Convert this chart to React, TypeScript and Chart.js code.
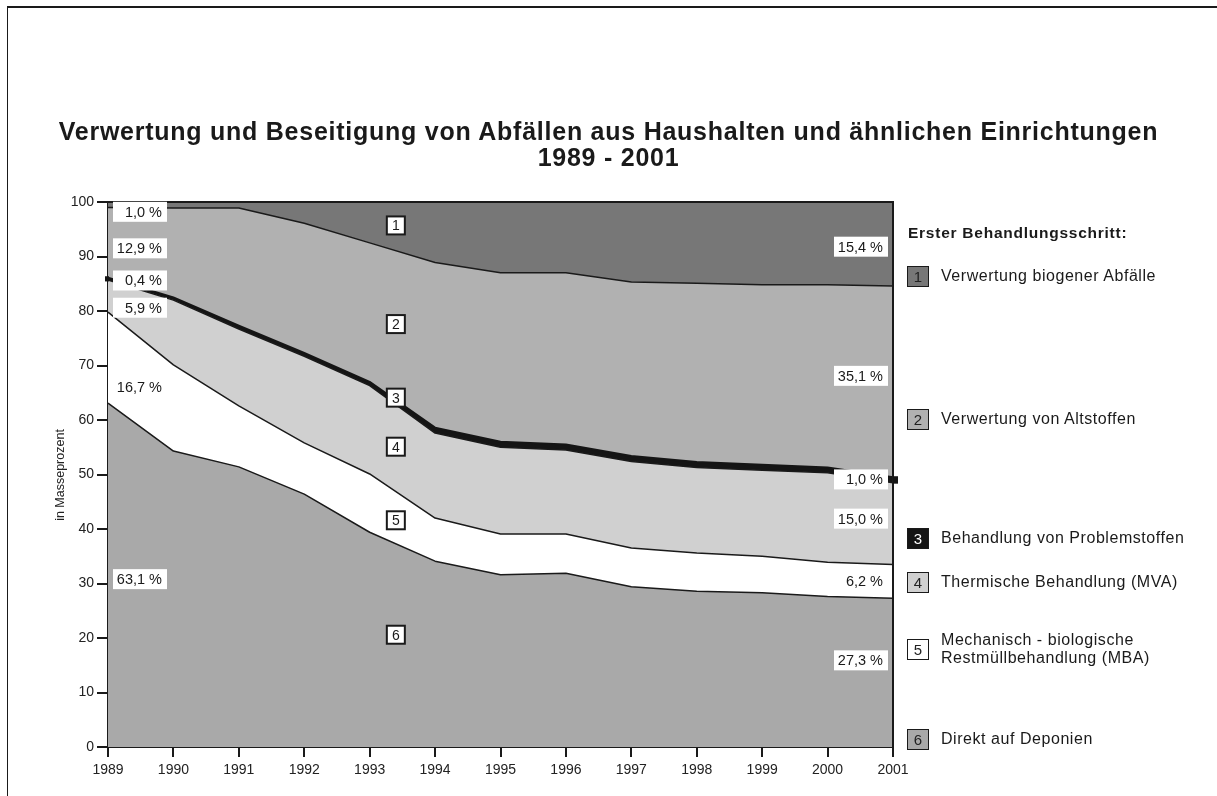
import React, { useEffect, useRef } from "react";
import { Chart, registerables } from "chart.js";

Chart.register(...registerables);

// ---------- data ----------
const years = ["1989", "1990", "1991", "1992", "1993", "1994", "1995", "1996", "1997", "1998", "1999", "2000", "2001"];
// stacked from bottom (6) to top (1), in mass percent
const deponien = [63.1, 54.3, 51.4, 46.4, 39.4, 34.1, 31.6, 31.9, 29.4, 28.6, 28.3, 27.6, 27.3];
const mba = [16.7, 15.8, 11.2, 9.4, 10.7, 7.9, 7.5, 7.2, 7.1, 7.0, 6.7, 6.3, 6.2];
const mva = [5.9, 11.9, 14.1, 15.9, 16.2, 15.6, 15.9, 15.4, 15.9, 15.7, 15.8, 16.4, 15.0];
const problemstoffe = [0.4, 0.5, 0.6, 0.6, 0.7, 1.0, 1.0, 1.0, 1.0, 1.0, 1.0, 1.0, 1.0];
const altstoffe = [12.9, 16.4, 21.6, 23.8, 25.5, 30.3, 31.0, 31.5, 31.9, 32.8, 33.0, 33.5, 35.1];
const biogen = [1.0, 1.1, 1.1, 3.9, 7.5, 11.1, 13.0, 13.0, 14.7, 14.9, 15.2, 15.2, 15.4];
const yTicks = [0, 10, 20, 30, 40, 50, 60, 70, 80, 90, 100];
const seriesNumbers = ["1", "2", "3", "4", "5", "6"];
const seriesNames = [
  "Verwertung biogener Abfälle",
  "Verwertung von Altstoffen",
  "Behandlung von Problemstoffen",
  "Thermische Behandlung (MVA)",
  "Mechanisch - biologische\nRestmüllbehandlung (MBA)",
  "Direkt auf Deponien",
];

// ---------- styles ----------
const FONT = "'Liberation Sans', Arial, Helvetica, sans-serif";
const C1 = "#777777";
const C2 = "#b1b1b1";
const C3 = "#151515";
const C4 = "#d0d0d0";
const C5 = "#ffffff";
const C6 = "#a9a9a9";
const seriesColors = [C1, C2, C3, C4, C5, C6];
const INK = "#1a1a1a";

const fmt = (v: number) => v.toFixed(1).replace(".", ",") + " %";

// label placement (value-axis units) for first/last year and for the number boxes
const leftLabelY = [98.2, 91.5, 85.6, 80.6, 66.1, 30.8];
const rightLabelY = [91.8, 68.1, 49.1, 41.9, 30.5, 15.9];
const numberBoxX = 4.4;
const numberBoxY = [95.7, 77.6, 64.1, 55.1, 41.6, 20.6];

const labelPlugin = {
  id: "labelPlugin",
  afterDatasetsDraw(chart: any) {
    const ctx = chart.ctx as CanvasRenderingContext2D;
    const xs = chart.scales.x;
    const ys = chart.scales.y;
    const area = chart.chartArea;
    const top = [biogen, altstoffe, problemstoffe, mva, mba, deponien];
    const last = years.length - 1;

    ctx.save();
    // plot frame (top and right)
    ctx.strokeStyle = INK;
    ctx.lineWidth = 2;
    ctx.beginPath();
    ctx.moveTo(area.left, area.top);
    ctx.lineTo(area.right, area.top);
    ctx.lineTo(area.right, area.bottom);
    ctx.stroke();

    // line stubs of the Problemstoffe band beyond the axes
    const cum = (i: number) => deponien[i] + mba[i] + mva[i];
    ctx.fillStyle = C3;
    const yl0 = ys.getPixelForValue(cum(last) + problemstoffe[last]);
    const yl1 = ys.getPixelForValue(cum(last));
    ctx.fillRect(xs.getPixelForValue(last), yl0 - 1, 5, yl1 - yl0 + 2);
    const yf0 = ys.getPixelForValue(cum(0) + problemstoffe[0]);
    const yf1 = ys.getPixelForValue(cum(0));
    ctx.fillRect(xs.getPixelForValue(0) - 3, yf0 - 1.5, 4, yf1 - yf0 + 3);

    // percent labels
    ctx.font = `14.5px ${FONT}`;
    ctx.textBaseline = "middle";
    ctx.textAlign = "right";
    const bw = 54;
    const bh = 20;
    for (let k = 0; k < 6; k++) {
      const yL = ys.getPixelForValue(leftLabelY[k]);
      const xL = xs.getPixelForValue(0) + 5;
      ctx.fillStyle = "#ffffff";
      ctx.fillRect(xL, yL - bh / 2, bw, bh);
      ctx.fillStyle = INK;
      ctx.fillText(fmt(top[k][0]), xL + bw - 5, yL + 1);

      const yR = ys.getPixelForValue(rightLabelY[k]);
      const xR = xs.getPixelForValue(last) - 5 - bw;
      ctx.fillStyle = "#ffffff";
      ctx.fillRect(xR, yR - bh / 2, bw, bh);
      ctx.fillStyle = INK;
      ctx.fillText(fmt(top[k][last]), xR + bw - 5, yR + 1);
    }

    // number boxes
    ctx.textAlign = "center";
    ctx.font = `14px ${FONT}`;
    const nb = 18;
    for (let k = 0; k < 6; k++) {
      const cx = xs.getPixelForValue(numberBoxX);
      const cy = ys.getPixelForValue(numberBoxY[k]);
      ctx.fillStyle = "#ffffff";
      ctx.fillRect(cx - nb / 2, cy - nb / 2, nb, nb);
      ctx.strokeStyle = INK;
      ctx.lineWidth = 2;
      ctx.strokeRect(cx - nb / 2, cy - nb / 2, nb, nb);
      ctx.fillStyle = INK;
      ctx.fillText(seriesNumbers[k], cx, cy + 1);
    }
    ctx.restore();
  },
};

export default function App() {
  const canvasRef = useRef<HTMLCanvasElement | null>(null);

  useEffect(() => {
    if (!canvasRef.current) return;
    const common = { pointRadius: 0, tension: 0, borderColor: INK, borderJoinStyle: "round" as const };
    const chart = new Chart(canvasRef.current, {
      type: "line",
      data: {
        labels: years,
        datasets: [
          { ...common, label: "Direkt auf Deponien", data: deponien, backgroundColor: C6, borderWidth: 1.5, fill: "origin" },
          { ...common, label: "MBA", data: mba, backgroundColor: C5, borderWidth: 1.5, fill: "-1" },
          { ...common, label: "MVA", data: mva, backgroundColor: C4, borderWidth: 1.5, fill: "-1" },
          { ...common, label: "Problemstoffe", data: problemstoffe, backgroundColor: C3, borderColor: C3, borderWidth: 2, fill: "-1" },
          { ...common, label: "Altstoffe", data: altstoffe, backgroundColor: C2, borderWidth: 1.5, fill: "-1" },
          { ...common, label: "Biogen", data: biogen, backgroundColor: C1, borderWidth: 0, fill: "-1" },
        ],
      },
      options: {
        animation: false,
        responsive: false,
        maintainAspectRatio: false,
        layout: { padding: { left: 0, top: 202, right: 324, bottom: 0 } },
        plugins: {
          legend: { display: false },
          tooltip: { enabled: false },
          title: { display: false },
        },
        scales: {
          x: {
            type: "category",
            offset: false,
            z: 1,
            grid: { display: true, drawOnChartArea: false, drawTicks: true, tickLength: 10, color: INK, lineWidth: 2 },
            border: { display: true, color: INK, width: 2 },
            ticks: { color: "#222", font: { family: FONT, size: 14 }, padding: 5, maxRotation: 0, autoSkip: false },
            afterFit: (s: any) => {
              s.height = 49;
            },
          },
          y: {
            stacked: true,
            min: 0,
            max: 100,
            z: 1,
            grid: { display: true, drawOnChartArea: false, drawTicks: true, tickLength: 11, color: INK, lineWidth: 2 },
            border: { display: true, color: INK, width: 2 },
            afterBuildTicks: (s: any) => {
              s.ticks = yTicks.map((v) => ({ value: v }));
            },
            ticks: { color: "#222", font: { family: FONT, size: 14 }, padding: 3 },
            afterFit: (s: any) => {
              s.width = 108;
            },
          },
        },
      },
      plugins: [labelPlugin],
    });
    return () => chart.destroy();
  }, []);

  const legendY = [276, 419, 538, 582, 649, 739];

  return (
    <div style={{ position: "absolute", left: 0, top: 0, width: 1217, height: 796, background: "#fff", overflow: "hidden", fontFamily: FONT }}>
      <canvas ref={canvasRef} width={1217} height={796} style={{ position: "absolute", left: 0, top: 0, width: 1217, height: 796 }} />
      <div style={{ position: "absolute", left: 7, top: 6, width: 1217, height: 800, borderTop: `2px solid ${INK}`, borderLeft: `1.5px solid ${INK}`, pointerEvents: "none" }} />
      <div style={{ position: "absolute", left: 0, top: 117, width: 1217, textAlign: "center", fontWeight: "bold", fontSize: 25, letterSpacing: "0.75px", lineHeight: "28px", color: INK, whiteSpace: "nowrap" }}>
        Verwertung und Beseitigung von Abfällen aus Haushalten und ähnlichen Einrichtungen
      </div>
      <div style={{ position: "absolute", left: 0, top: 143, width: 1217, textAlign: "center", fontWeight: "bold", fontSize: 25, letterSpacing: "0.75px", lineHeight: "28px", color: INK }}>
        1989 - 2001
      </div>
      <div style={{ position: "absolute", left: 60, top: 475, width: 0, height: 0 }}>
        <div style={{ position: "absolute", transform: "translate(-50%, -50%) rotate(-90deg)", whiteSpace: "nowrap", fontSize: 12.5, color: "#222" }}>
          in Masseprozent
        </div>
      </div>
      <div style={{ position: "absolute", left: 908, top: 223, fontWeight: "bold", fontSize: 15.5, letterSpacing: "0.75px", lineHeight: "20px", color: INK, whiteSpace: "nowrap" }}>
        Erster Behandlungsschritt:
      </div>
      {seriesNames.map((name, i) => (
        <div key={i} style={{ position: "absolute", left: 907, top: legendY[i] - 11, height: 22, display: "flex", alignItems: "center" }}>
          <div
            style={{
              boxSizing: "border-box",
              width: 22,
              height: 21,
              border: `1.5px solid ${INK}`,
              background: seriesColors[i],
              color: i === 2 ? "#fff" : "#222",
              fontSize: 15,
              display: "flex",
              alignItems: "center",
              justifyContent: "center",
            }}
          >
            {seriesNumbers[i]}
          </div>
          <div style={{ marginLeft: 12, fontSize: 16, letterSpacing: "0.55px", lineHeight: "18px", color: INK, whiteSpace: "pre" }}>{name}</div>
        </div>
      ))}
    </div>
  );
}
